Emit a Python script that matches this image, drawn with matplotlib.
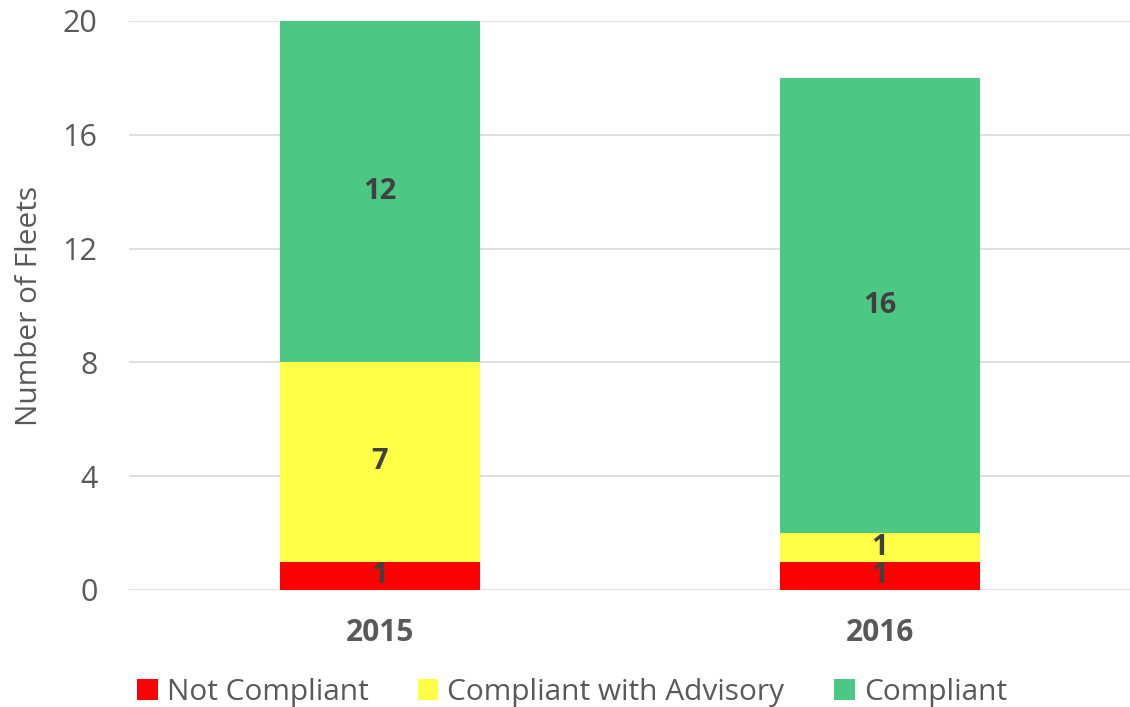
import matplotlib
matplotlib.use("Agg")
import matplotlib.pyplot as plt
import numpy as np

years = ["2015", "2016"]
not_compliant = [1, 1]
advisory = [7, 1]
compliant = [12, 16]

series = [
    ("Not Compliant", not_compliant, "#FF0000"),
    ("Compliant with Advisory", advisory, "#FFFF47"),
    ("Compliant", compliant, "#4CC784"),
]

plt.rcParams["font.family"] = ["Open Sans", "DejaVu Sans"]

fig = plt.figure(figsize=(11.30, 7.07), dpi=100)
ax = fig.add_axes([0.1146, 0.1655, 0.8854, 0.8048])

x = np.arange(len(years))
bottom = np.zeros(len(years))
for name, vals, col in series:
    ax.bar(x, vals, width=0.4, bottom=bottom, color=col, label=name, zorder=2)
    for xi, b, v in zip(x, bottom, vals):
        ax.text(xi, b + v / 2, str(v), ha="center", va="center",
                fontsize=21, fontweight="bold", color="#404040", zorder=3)
    bottom += np.array(vals)

ax.set_xlim(-0.5, 1.5)
ax.set_ylim(0, 20)
ax.set_yticks([0, 4, 8, 12, 16, 20])
ax.yaxis.grid(True, color="#D9D9D9", linewidth=1.2, zorder=0)
ax.set_axisbelow(True)
for s in ax.spines.values():
    s.set_visible(False)
ax.tick_params(axis="both", length=0)
ax.tick_params(axis="y", labelsize=22, labelcolor="#595959", pad=23)
ax.set_xticks(x)
ax.set_xticklabels(years, fontsize=21.5, fontweight="bold", color="#595959")
ax.tick_params(axis="x", pad=20)
ax.set_ylabel("Number of Fleets", fontsize=21.5, color="#595959", labelpad=13)

ax.legend(loc="center", bbox_to_anchor=(0.442, -0.18), ncol=3, frameon=False,
          fontsize=21.5, labelcolor="#595959", handlelength=0.7, handleheight=0.7,
          handletextpad=0.3, columnspacing=1.65, borderpad=0.1)

fig.savefig("out.png", dpi=100)
